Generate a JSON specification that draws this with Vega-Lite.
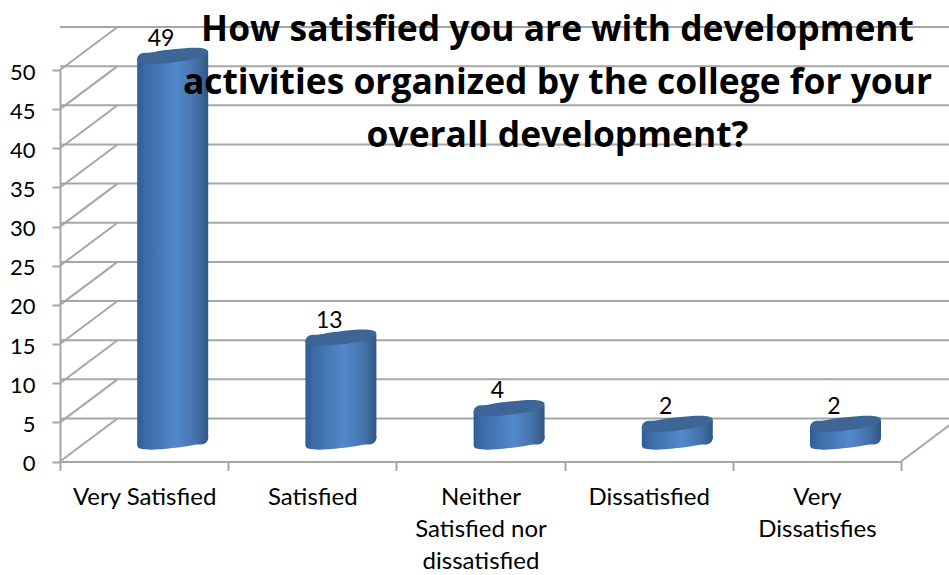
{"$schema":"https://vega.github.io/schema/vega-lite/v6.json","width":841,"height":391.5,"autosize":"none","padding":{"left":60,"top":70,"right":48,"bottom":113.5},"background":"white","config":{"view":{"stroke":null}},"title":{"text":["How satisfied you are with development","activities organized by the college for your","overall development?"],"font":"Open Sans","fontSize":35.4,"fontWeight":"bold","color":"#000000","lineHeight":53,"anchor":"middle","dx":77,"offset":-128,"zindex":1},"datasets":{"cats":[{"category":"Very Satisfied","value":49},{"category":"Satisfied","value":13},{"category":"Neither Satisfied nor dissatisfied","value":4},{"category":"Dissatisfied","value":2},{"category":"Very Dissatisfies","value":2}],"levels":[{"level":0},{"level":5},{"level":10},{"level":15},{"level":20},{"level":25},{"level":30},{"level":35},{"level":40},{"level":45},{"level":50}]},"layer":[{"data":{"name":"levels"},"mark":{"type":"rule","color":"#a6a6a6","strokeWidth":2,"xOffset":57.5,"x2Offset":57.5,"yOffset":-43},"encoding":{"y":{"field":"level","type":"quantitative","scale":{"domain":[0,50],"nice":false},"axis":{"tickCount":10,"title":null,"grid":false,"labelOverlap":"greedy","labelSeparation":0,"labelOffset":2,"labelFont":"Lato","labelFontSize":22,"labelColor":"#000000","labelPadding":17,"tickSize":8,"tickColor":"#a6a6a6","tickWidth":2,"domainColor":"#a6a6a6","domainWidth":2}}}},{"data":{"name":"levels"},"mark":{"type":"rule","color":"#a6a6a6","strokeWidth":2,"xOffset":-84.1,"x2Offset":-26.6,"y2Offset":-43},"encoding":{"x":{"datum":"Very Satisfied","type":"nominal","scale":{"domain":["Very Satisfied","Satisfied","Neither Satisfied nor dissatisfied","Dissatisfied","Very Dissatisfies"],"paddingInner":0,"paddingOuter":0},"axis":{"title":null,"labelAngle":0,"tickBand":"extent","labelFont":"Lato","labelFontSize":24,"labelColor":"#000000","labelPadding":15,"labelLineHeight":32,"labelAlign":"center","labelBaseline":"top","tickSize":9,"tickColor":"#a6a6a6","tickWidth":2,"domainColor":"#a6a6a6","domainWidth":2,"labelLimit":0,"labelExpr":"datum.label == 'Neither Satisfied nor dissatisfied' ? ['Neither','Satisfied nor','dissatisfied'] : datum.label == 'Very Dissatisfies' ? ['Very','Dissatisfies'] : datum.label"}},"x2":{"datum":"Very Satisfied"},"y":{"field":"level","type":"quantitative"},"y2":{"field":"level"}}},{"data":{"values":[{"level":0}]},"mark":{"type":"rule","color":"#a6a6a6","strokeWidth":2,"xOffset":84.1,"x2Offset":141.6,"y2Offset":-43},"encoding":{"x":{"datum":"Very Dissatisfies","type":"nominal"},"x2":{"datum":"Very Dissatisfies"},"y":{"field":"level","type":"quantitative"},"y2":{"field":"level"}}},{"data":{"name":"cats"},"mark":{"type":"point","filled":true,"opacity":1,"size":5041,"xOffset":28.6,"yOffset":-20,"shape":"M1,-.113C1,.035 .5523,.1226 0,.185C-.5523,.2474 -1,.261 -1,.113C-1,-.035 -.5523,-.1226 0,-.185C.5523,-.2474 1,-.261 1,-.113Z","fill":{"gradient":"linear","x1":0,"x2":1,"y1":0,"y2":0,"stops":[{"offset":0,"color":"#2f5d93"},{"offset":0.12,"color":"#3c6ba6"},{"offset":0.55,"color":"#5289cd"},{"offset":0.8,"color":"#4675ad"},{"offset":1,"color":"#2f5886"}]}},"encoding":{"x":{"field":"category","type":"nominal"},"y":{"datum":0,"type":"quantitative"}}},{"data":{"name":"cats"},"mark":{"type":"bar","size":71,"xOffset":28.6,"yOffset":-25,"y2Offset":-17,"cornerRadiusTopLeft":7,"cornerRadiusBottomRight":7,"fill":{"gradient":"linear","x1":0,"x2":1,"y1":0,"y2":0,"stops":[{"offset":0,"color":"#2f5d93"},{"offset":0.12,"color":"#3c6ba6"},{"offset":0.55,"color":"#5289cd"},{"offset":0.8,"color":"#4675ad"},{"offset":1,"color":"#2f5886"}]}},"encoding":{"x":{"field":"category","type":"nominal"},"y":{"field":"value","type":"quantitative"},"y2":{"datum":0}}},{"data":{"name":"cats"},"mark":{"type":"point","filled":true,"opacity":1,"size":5041,"xOffset":28.6,"yOffset":-22,"shape":"M1,-.113C1,.035 .5523,.1226 0,.185C-.5523,.2474 -1,.261 -1,.113C-1,-.035 -.5523,-.1226 0,-.185C.5523,-.2474 1,-.261 1,-.113Z","fill":"#3d6696"},"encoding":{"x":{"field":"category","type":"nominal"},"y":{"field":"value","type":"quantitative"}}},{"data":{"name":"cats"},"mark":{"type":"text","font":"Lato","fontSize":23,"color":"#000000","baseline":"alphabetic","align":"center","xOffset":17,"yOffset":-32},"encoding":{"x":{"field":"category","type":"nominal"},"y":{"field":"value","type":"quantitative"},"text":{"field":"value","type":"quantitative"}}}]}
